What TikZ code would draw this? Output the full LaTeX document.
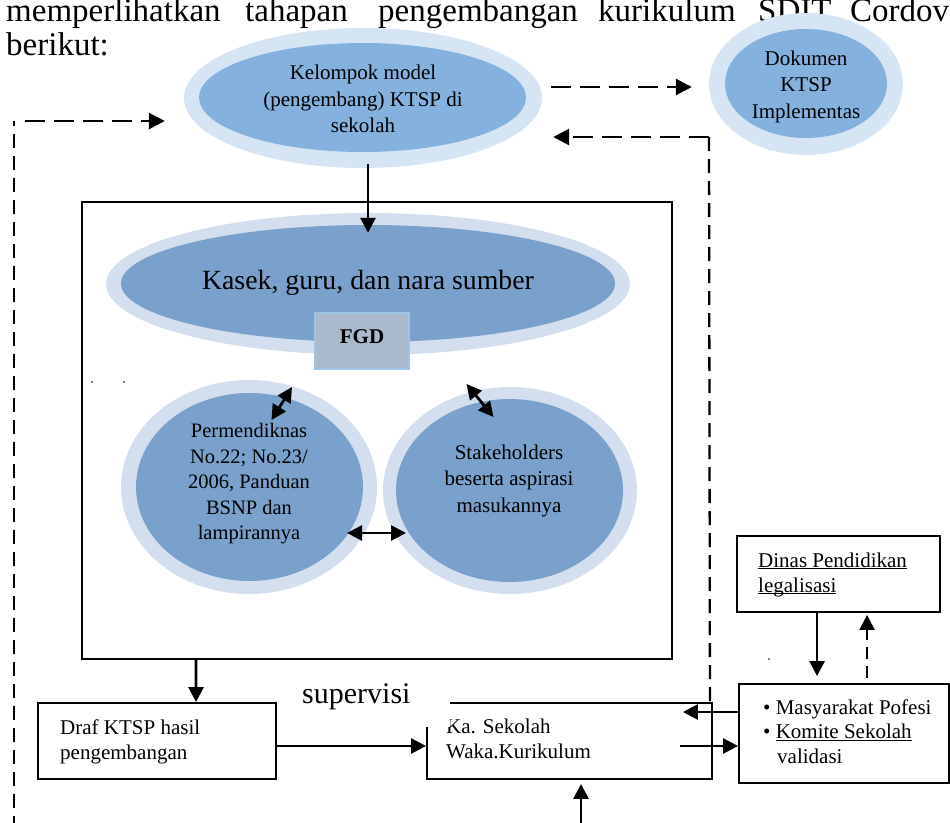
\documentclass[tikz,border=0pt]{standalone}
\usepackage{fontspec}
\setmainfont{Liberation Serif}
\usetikzlibrary{shapes.geometric,arrows.meta,calc}
\definecolor{ringA}{RGB}{214,229,244}
\definecolor{coreA}{RGB}{132,177,222}
\definecolor{ringB}{RGB}{211,223,238}
\definecolor{coreB}{RGB}{122,160,204}
\definecolor{fgdfill}{RGB}{171,185,205}
\definecolor{fgdline}{RGB}{157,195,230}
\newcommand{\ulx}[1]{{\setbox0\hbox{#1}\rlap{\rule[-2.2pt]{\wd0}{0.9pt}}\box0}}
\begin{document}
\begin{tikzpicture}[x=1pt,y=-1pt,
  ringa/.style={ellipse,fill=ringA,inner sep=0pt},
  corea/.style={ellipse,fill=coreA,inner sep=0pt},
  ringb/.style={ellipse,fill=ringB,inner sep=0pt},
  coreb/.style={ellipse,fill=coreB,inner sep=0pt},
  lbl/.style={inner sep=0pt,align=center,font=\fontsize{21}{26.5}\selectfont},
  lbll/.style={inner sep=0pt,align=left,anchor=west,font=\fontsize{21}{25}\selectfont},
  boxed/.style={draw,line width=1.9pt,inner sep=0pt},
  headtext/.style={inner sep=0pt,anchor=base west,font=\fontsize{33}{40}\selectfont},
  arr/.style={-{Triangle[length=15pt,width=15pt]},line width=2.8pt},
  dbl/.style={{Triangle[length=15pt,width=15pt]}-{Triangle[length=15pt,width=15pt]},line width=2.8pt},
  dashh/.style={-{Triangle[length=16pt,width=16pt]},line width=2.8pt,dash pattern=on 20pt off 9pt},
  dashv/.style={line width=2.3pt,dash pattern=on 14pt off 8pt},
  dashs/.style={-{Triangle[length=15pt,width=15pt]},line width=2.2pt,dash pattern=on 12pt off 7pt},
]
\useasboundingbox (0,0) rectangle (950,822);

% heading text (cut at the top and right)
\node[headtext] (w1) at (6,21) {memperlihatkan};
\node[headtext] (w2) at (245,21) {tahapan};
\node[headtext] (w3) at (378,21) {pengembangan};
\node[headtext] (w4) at (598,21) {kurikulum};
\node[headtext] (w5) at (758,21) {SDIT};
\node[headtext] (w6) at (850,21) {Cordova};
\node[headtext] (w7) at (6,55) {berikut:};

% top ellipses
\node[ringa,minimum width=358pt,minimum height=140pt] (kelO) at (363,98) {};
\node[corea,minimum width=327pt,minimum height=109pt] (kelI) at (362.5,97.5) {};
\node[lbl] (kelT) at (363,99.3) {Kelompok model\\(pengembang) KTSP di\\sekolah};

\node[ringa,minimum width=194pt,minimum height=142pt] (dokO) at (806,84) {};
\node[corea,minimum width=162pt,minimum height=109pt] (dokI) at (806,83.5) {};
\node[lbl] (dokT) at (806,86.5) {Dokumen\\KTSP\\Implementas};

% big frame
\node[boxed,line width=2pt,minimum width=590pt,minimum height=457pt] (frame) at (377,430.5) {};

\node[ringb,minimum width=524pt,minimum height=142pt] (kasO) at (368,284) {};
\node[coreb,minimum width=494pt,minimum height=117pt] (kasI) at (368,283.5) {};
\node[inner sep=0pt,font=\fontsize{27.8}{32}\selectfont] (kasT) at (368,282.7) {Kasek, guru, dan nara sumber};

\node[draw=fgdline,fill=fgdfill,line width=1.2pt,minimum width=94pt,minimum height=56pt,inner sep=0pt] (fgd) at (362,341) {};
\node[inner sep=0pt,font=\fontsize{21}{25}\selectfont\bfseries] (fgdT) at (362,337) {FGD};

\node[ringb,minimum width=256pt,minimum height=214pt] (lcO) at (249,487) {};
\node[coreb,minimum width=227pt,minimum height=188pt] (lcI) at (249.5,487) {};
\node[lbl,font=\fontsize{20.5}{25.5}\selectfont] (lcT) at (249,484) {Permendiknas\\No.22; No.23/\\2006, Panduan\\BSNP dan\\lampirannya};

\node[ringb,minimum width=254pt,minimum height=207pt] (rcO) at (510,490.5) {};
\node[coreb,minimum width=227pt,minimum height=183pt] (rcI) at (509.5,490.5) {};
\node[lbl,font=\fontsize{21}{26.5}\selectfont] (rcT) at (509,480.6) {Stakeholders\\beserta aspirasi\\masukannya};

% stray dots
\fill (92,382) circle (0.9);
\fill (124,382) circle (0.9);
\fill (769,659) circle (0.9);

% lower boxes
\node[boxed,minimum width=238pt,minimum height=76pt] (draf) at (157,741) {};
\node[lbll] (drafT) at (60,741.6) {Draf KTSP hasil\\pengembangan};

\node[boxed,minimum width=285pt,minimum height=76pt] (ka) at (569.5,741) {};
\node[lbll] (kaT) at (446,738.9) {Ka. Sekolah\\Waka.Kurikulum};
\fill[white] (296,672) rectangle (450,727);
\node[inner sep=0pt,anchor=base west,font=\fontsize{30}{36}\selectfont] (sup) at (302,703) {supervisi};

\node[boxed,minimum width=203pt,minimum height=76pt] (din) at (838.5,574) {};
\node[lbll] (dinT) at (758,574.6) {\ulx{Dinas Pendidikan}\\\ulx{legalisasi}};

\node[boxed,minimum width=210pt,minimum height=99pt] (mas) at (844,733.5) {};
\node[lbll,font=\fontsize{21}{24.5}\selectfont] (masT) at (763,731.4) {• Masyarakat Pofesi\\• \ulx{Komite Sekolah}\\\hspace*{14pt}validasi};

% connectors
\draw[arr,shorten >=-8pt] (kelO.south -| kasI.north) ++(0,-4) -- (kasI.north);
\draw[dashh] ($(kelO.east)+(9,-11)$) -- ($(dokO.west)+(-17,3)$);
\coordinate (retCorner) at (709,137);
\draw[dashv] ($(ka.north east)+(-3,-1)$) -- (retCorner);
\draw[dashh] (retCorner) -- ($(kelO.east)+(11,39)$);
\coordinate (leftBottom) at (14,830);
\coordinate (leftCorner) at (14,121);
\draw[dashv] (leftBottom) -- (leftCorner);
\draw[dashh] ($(leftCorner)+(11,0)$) -- ($(kelO.west)+(-19,23)$);

\draw[dbl] ($(lcO.center)+(98,46)$) -- ($(rcO.center)+(-104,42.5)$);
\draw[dbl] ($(lcO.center)+(22.5,-67)$) -- ($(lcO.center)+(43,-100)$);
\draw[dbl] ($(rcO.center)+(-43.5,-106.5)$) -- ($(rcO.center)+(-16.5,-73.5)$);

\draw[arr] ($(frame.south west)+(115,0)$) -- ($(draf.north west)+(159,0)$);
\draw[arr] ($(draf.east)+(0,5)$) -- ($(ka.west)+(0,5)$);
\draw[arr] ($(ka.east)+(-33,5)$) -- ($(mas.west)+(0,12.5)$);
\draw[arr] ($(mas.west)+(0,-21.5)$) -- ($(ka.east)+(-30,-29)$);
\draw[arr] ($(din.south west)+(81,0)$) -- ($(mas.north west)+(79,-7)$);
\draw[dashs] ($(mas.north west)+(129,-5)$) -- ($(din.south west)+(131,2)$);
\draw[arr] ($(ka.south)+(11.5,45)$) -- ($(ka.south)+(11.5,4)$);
\end{tikzpicture}
\end{document}
